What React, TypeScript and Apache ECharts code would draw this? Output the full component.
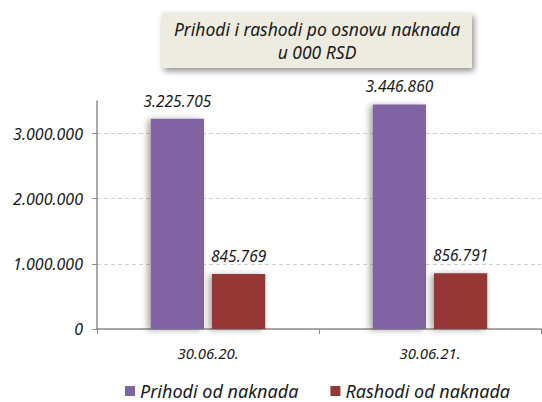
import React, { useEffect, useRef } from "react";
import * as echarts from "echarts";

const categories = ["30.06.20.", "30.06.21."];
const prihodi = [3225705, 3446860];
const rashodi = [845769, 856791];
const seriesNames = ["Prihodi od naknada", "Rashodi od naknada"];
const titleLines = ["Prihodi i rashodi po osnovu naknada", "u 000 RSD"];

const FONT = "Noto Sans";

const fmt = (v: number) =>
  String(Math.round(v)).replace(/\B(?=(\d{3})+(?!\d))/g, ".");

export default function App() {
  const ref = useRef<HTMLDivElement>(null);
  useEffect(() => {
    if (!ref.current) return;
    const chart = echarts.init(ref.current, undefined, { renderer: "svg" });
    const labelStyle = {
      show: true,
      position: "top",
      distance: 10,
      fontStyle: "italic",
      fontFamily: FONT,
      fontSize: 15.5,
      color: "#1a1a1a",
      formatter: (p: any) => fmt(p.value),
    };
    const shadow = {
      shadowColor: "rgba(0,0,0,0.35)",
      shadowBlur: 6,
      shadowOffsetX: -3,
      shadowOffsetY: 1,
    };
    const titleText = (text: string, y: number) => ({
      type: "text",
      x: 317,
      y,
      style: {
        text,
        textAlign: "center",
        textVerticalAlign: "middle",
        fontFamily: FONT,
        fontStyle: "italic",
        fontSize: 17.5,
        fill: "#1a1a1a",
      },
    });
    chart.setOption({
      animation: false,
      textStyle: { fontFamily: FONT },
      graphic: [
        {
          type: "rect",
          shape: { x: 162, y: 13, width: 310, height: 55 },
          style: {
            fill: "#EEECE1",
            shadowColor: "rgba(0,0,0,0.45)",
            shadowBlur: 6,
            shadowOffsetX: 2,
            shadowOffsetY: 3,
          },
        },
        titleText(titleLines[0], 29),
        titleText(titleLines[1], 52),
      ],
      grid: { left: 97, right: 1, top: 101, bottom: 73 },
      legend: {
        top: 377,
        left: 120,
        icon: "rect",
        itemWidth: 10,
        itemHeight: 10,
        itemGap: 32,
        textStyle: {
          fontFamily: FONT,
          fontStyle: "italic",
          fontSize: 18,
          color: "#1a1a1a",
        },
        data: seriesNames,
      },
      xAxis: {
        type: "category",
        data: categories,
        axisLine: { lineStyle: { color: "#8c8c8c", width: 1.5 } },
        axisTick: { show: true, length: 5, lineStyle: { color: "#8c8c8c" } },
        axisLabel: {
          margin: 16,
          fontFamily: FONT,
          fontStyle: "italic",
          fontSize: 15,
          color: "#1a1a1a",
        },
      },
      yAxis: {
        type: "value",
        min: 0,
        max: 3500000,
        interval: 1000000,
        axisLine: { show: true, lineStyle: { color: "#8c8c8c", width: 1.5 } },
        axisTick: { show: true, length: 5, lineStyle: { color: "#8c8c8c" } },
        axisLabel: {
          margin: 14,
          fontFamily: FONT,
          fontStyle: "italic",
          fontSize: 16,
          color: "#1a1a1a",
          showMaxLabel: false,
          formatter: (v: number) => (v % 1000000 === 0 ? fmt(v) : ""),
        },
        splitLine: {
          show: true,
          showMaxLine: false,
          lineStyle: { color: "#cfcfcf", type: [4, 3] },
        },
      },
      series: [
        {
          name: seriesNames[0],
          type: "bar",
          data: prihodi,
          barWidth: "24%",
          barGap: "15%",
          itemStyle: { color: "#8064A2", ...shadow },
          label: labelStyle,
        },
        {
          name: seriesNames[1],
          type: "bar",
          data: rashodi,
          barWidth: "24%",
          itemStyle: { color: "#953735", ...shadow },
          label: labelStyle,
        },
      ],
    });
    return () => chart.dispose();
  }, []);
  return (
    <div
      ref={ref}
      style={{ position: "fixed", left: 0, top: 0, width: 542, height: 402, background: "#fff" }}
    />
  );
}
